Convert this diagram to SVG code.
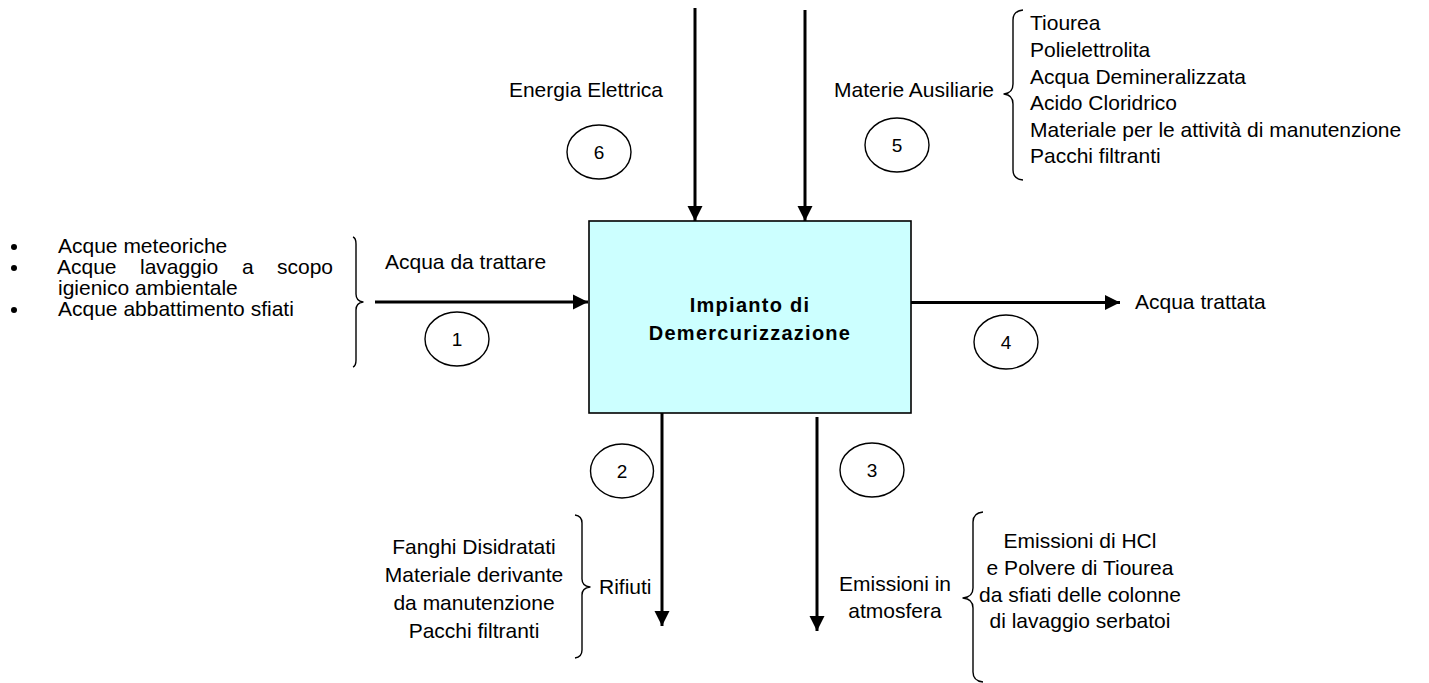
<svg xmlns="http://www.w3.org/2000/svg" width="1429" height="683" viewBox="0 0 1429 683">
  <style>
    text { font-family: "Liberation Sans", Arial, sans-serif; font-size: 21px; fill: #000; }
    .num { font-size: 19px; text-anchor: middle; }
    .mid { text-anchor: middle; }
    .end { text-anchor: end; }
    .title { font-weight: bold; font-size: 20px; letter-spacing: 1.25px; text-anchor: middle; }
    .flow { stroke: #000; stroke-width: 3; fill: none; marker-end: url(#head); }
    .badge { fill: #fff; stroke: #000; stroke-width: 1.4; }
    .brace { fill: none; stroke: #000; stroke-width: 1.4; stroke-linejoin: round; }
  </style>
  <defs>
    <marker id="head" markerUnits="userSpaceOnUse" markerWidth="16" markerHeight="16" viewBox="0 0 16 16" refX="15" refY="8" orient="auto">
      <path d="M0,0.5 L15,8 L0,15.5 Z" fill="#000"/>
    </marker>
  </defs>

  <rect width="1429" height="683" fill="#fff"/>

  <!-- flows in and out of the plant -->
  <g id="connectors">
    <line class="flow" x1="695" y1="8" x2="695" y2="221"/>
    <line class="flow" x1="805" y1="10" x2="805" y2="221"/>
    <line class="flow" x1="375" y1="302" x2="588" y2="302"/>
    <line class="flow" x1="911" y1="302.5" x2="1120" y2="302.5"/>
    <line class="flow" x1="662" y1="413" x2="662" y2="626"/>
    <line class="flow" x1="817" y1="417" x2="817" y2="631"/>
  </g>

  <!-- plant -->
  <g id="impianto">
    <rect x="589" y="221" width="322" height="192" fill="#ccffff" stroke="#000" stroke-width="1.6"/>
    <text class="title" x="750" y="312">Impianto di</text>
    <text class="title" x="750" y="340">Demercurizzazione</text>
  </g>

  <!-- 1: water to treat -->
  <g id="ingresso-acqua">
    <circle cx="14" cy="247" r="3"/>
    <circle cx="14" cy="268" r="3"/>
    <circle cx="14" cy="310" r="3"/>
    <text x="58" y="253">Acque meteoriche</text>
    <text y="274"><tspan x="57">Acque</tspan><tspan x="140">lavaggio</tspan><tspan x="242">a</tspan><tspan x="277">scopo</tspan></text>
    <text x="58" y="295">igienico ambientale</text>
    <text x="58" y="316">Acque abbattimento sfiati</text>
    <path class="brace" d="M353,237 Q356,238 356,244 L356,294 Q356,301 363,302 Q356,303 356,310 L356,360 Q356,366 353,367"/>
    <text x="385" y="269">Acqua da trattare</text>
    <ellipse class="badge" cx="457" cy="339" rx="32" ry="27"/>
    <text class="num" x="457" y="346">1</text>
  </g>

  <!-- 2: waste -->
  <g id="rifiuti">
    <ellipse class="badge" cx="622" cy="471" rx="31.5" ry="27"/>
    <text class="num" x="622" y="478">2</text>
    <text class="mid" x="474" y="554">Fanghi Disidratati</text>
    <text class="mid" x="474" y="582">Materiale derivante</text>
    <text class="mid" x="474" y="610">da manutenzione</text>
    <text class="mid" x="474" y="638">Pacchi filtranti</text>
    <path class="brace" d="M575,515 Q582,516 582,523 L582,579 Q582,586 590,587 Q582,588 582,595 L582,650 Q582,657 575,658"/>
    <text x="599" y="594">Rifiuti</text>
  </g>

  <!-- 3: emissions -->
  <g id="emissioni">
    <ellipse class="badge" cx="872" cy="470" rx="32" ry="27"/>
    <text class="num" x="872" y="477">3</text>
    <text class="mid" x="895" y="591">Emissioni in</text>
    <text class="mid" x="895" y="618">atmosfera</text>
    <path class="brace" d="M983,512 Q973,513 973,522 L973,588 Q973,597 963,598 Q973,599 973,608 L973,672 Q973,681 983,682"/>
    <text class="mid" x="1080" y="548">Emissioni di HCl</text>
    <text class="mid" x="1080" y="575">e Polvere di Tiourea</text>
    <text class="mid" x="1080" y="602">da sfiati delle colonne</text>
    <text class="mid" x="1080" y="628">di lavaggio serbatoi</text>
  </g>

  <!-- 4: treated water -->
  <g id="acqua-trattata">
    <ellipse class="badge" cx="1006" cy="342" rx="32" ry="27"/>
    <text class="num" x="1006" y="349">4</text>
    <text x="1135" y="309">Acqua trattata</text>
  </g>

  <!-- 5: auxiliary materials -->
  <g id="materie-ausiliarie">
    <ellipse class="badge" cx="897" cy="145" rx="32" ry="27"/>
    <text class="num" x="897" y="152">5</text>
    <text class="end" x="994" y="97">Materie Ausiliarie</text>
    <path class="brace" d="M1023,10 Q1013,11 1013,20 L1013,84 Q1013,93 1004,94 Q1013,95 1013,104 L1013,170 Q1013,179 1023,180"/>
    <text x="1030" y="30">Tiourea</text>
    <text x="1030" y="57">Polielettrolita</text>
    <text x="1030" y="83.5">Acqua Demineralizzata</text>
    <text x="1030" y="110">Acido Cloridrico</text>
    <text x="1030" y="136.5">Materiale per le attività di manutenzione</text>
    <text x="1030" y="163">Pacchi filtranti</text>
  </g>

  <!-- 6: electric power -->
  <g id="energia-elettrica">
    <ellipse class="badge" cx="599" cy="152" rx="32" ry="27"/>
    <text class="num" x="599" y="159">6</text>
    <text class="end" x="663" y="97">Energia Elettrica</text>
  </g>
</svg>
